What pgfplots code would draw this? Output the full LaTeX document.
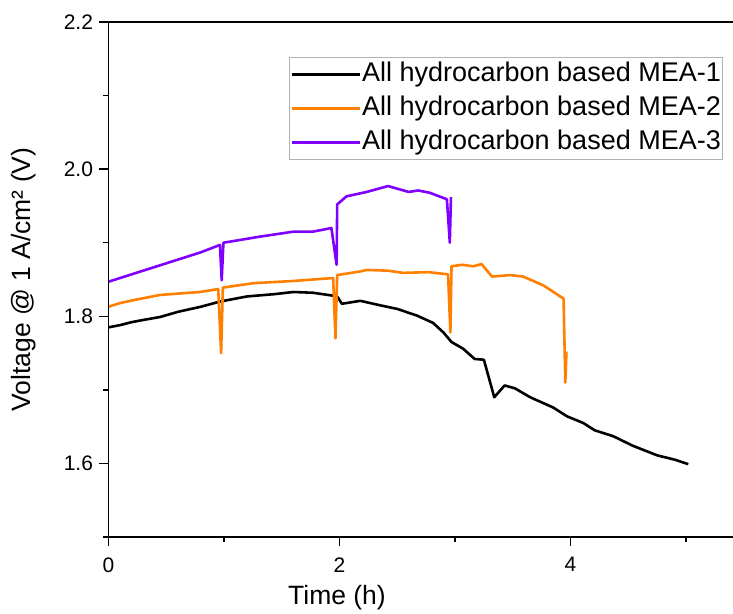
\documentclass[border=0pt]{standalone}
\usepackage{fontspec}
\setmainfont{Liberation Sans}
\usepackage{pgfplots}
\pgfplotsset{compat=1.18}
\definecolor{cOrange}{RGB}{255,128,0}
\definecolor{cPurple}{RGB}{128,0,255}
\begin{document}
\begin{tikzpicture}
\begin{axis}[
  at={(0,0)}, anchor=south west,
  scale only axis, width=626pt, height=515pt,
  xmin=0, xmax=5.42, ymin=1.5, ymax=2.2,
  axis line style={draw=none},
  xtick={0,2,4}, minor xtick={1,3,5},
  ytick={1.6,1.8,2.0,2.2}, minor ytick={1.5,1.7,1.9,2.1},
  xtick pos=bottom, ytick pos=left,
  tick align=outside,
  major tick length=9pt, minor tick length=5pt,
  every tick/.style={black, line width=1.3pt},
  /pgf/number format/assume math mode=true,
  yticklabel style={/pgf/number format/fixed, /pgf/number format/fixed zerofill, /pgf/number format/precision=1, xshift=-3pt},
  xticklabel style={yshift=-8pt},
  tick label style={font=\fontsize{21}{21}\selectfont},
  xlabel={Time (h)}, ylabel={Voltage @ 1 A/cm² (V)},
  every axis x label/.style={at={(axis description cs:0.365,-0.1184)}, anchor=center, font=\fontsize{26.5}{26.5}\selectfont},
  every axis y label/.style={at={(axis description cs:-0.135,0.5)}, anchor=center, rotate=90, font=\fontsize{26.5}{26.5}\selectfont},
  legend style={at={(axis description cs:0.2883,0.932)}, anchor=north west,
    draw=gray!60, line width=0.8pt, inner xsep=1pt, inner ysep=3pt,
    font=\fontsize{27}{27}\selectfont, row sep=6pt,
    nodes={inner xsep=1pt, inner ysep=2pt, text height=19pt, text depth=5pt}},
  legend cell align=left,
  legend image code/.code={\path (0pt,0pt) -- (68pt,0pt); \draw[#1, line width=3pt] (0pt,0pt) -- (63pt,0pt);},
  every axis plot/.append style={line width=2.6pt, line join=round},
  after end axis/.code={
    \draw[black, line width=1.6pt] (rel axis cs:1.01,1) -- (rel axis cs:0,1) -- (rel axis cs:0,0) -- (rel axis cs:1.01,0);
  },
]
\addplot[black] coordinates {
(0,1.785)(0.1,1.788)(0.2,1.792)(0.3,1.795)(0.446,1.799)(0.6,1.806)(0.8,1.813)(0.965,1.820)(1.2,1.827)(1.43,1.830)(1.6,1.833)(1.77,1.832)(1.945,1.828)(1.985,1.826)(2.02,1.817)(2.18,1.821)(2.35,1.815)(2.5,1.81)(2.67,1.801)(2.81,1.791)(2.9,1.778)(2.97,1.765)(3.07,1.756)(3.17,1.742)(3.25,1.741)(3.34,1.690)(3.43,1.706)(3.52,1.702)(3.65,1.690)(3.85,1.676)(3.97,1.664)(4.11,1.655)(4.21,1.645)(4.37,1.637)(4.54,1.624)(4.75,1.611)(4.905,1.605)(5.02,1.599)
};
\addlegendentry{All hydrocarbon based MEA-1}
\addplot[cOrange] coordinates {
(0,1.813)(0.1,1.818)(0.25,1.823)(0.446,1.829)(0.79,1.833)(0.95,1.837)(0.975,1.750)(0.99,1.839)(1.255,1.845)(1.6,1.848)(1.945,1.852)(1.965,1.770)(1.98,1.856)(2.18,1.861)(2.235,1.863)(2.42,1.862)(2.55,1.859)(2.77,1.860)(2.94,1.857)(2.96,1.778)(2.97,1.868)(3.06,1.870)(3.16,1.868)(3.23,1.871)(3.32,1.854)(3.48,1.856)(3.59,1.854)(3.765,1.842)(3.94,1.824)(3.955,1.71)(3.965,1.752)
};
\addlegendentry{All hydrocarbon based MEA-2}
\addplot[cPurple] coordinates {
(0,1.847)(0.2,1.857)(0.4,1.867)(0.6,1.877)(0.8,1.887)(0.965,1.897)(0.98,1.849)(0.995,1.900)(1.3,1.908)(1.6,1.915)(1.77,1.915)(1.93,1.920)(1.975,1.870)(1.98,1.952)(2.06,1.963)(2.235,1.969)(2.42,1.977)(2.6,1.969)(2.68,1.971)(2.78,1.968)(2.93,1.959)(2.955,1.900)(2.965,1.962)
};
\addlegendentry{All hydrocarbon based MEA-3}
\end{axis}
\pgfresetboundingbox
\path[use as bounding box] (-108.5pt,-76pt) rectangle (624.5pt,537pt);
\end{tikzpicture}
\end{document}
